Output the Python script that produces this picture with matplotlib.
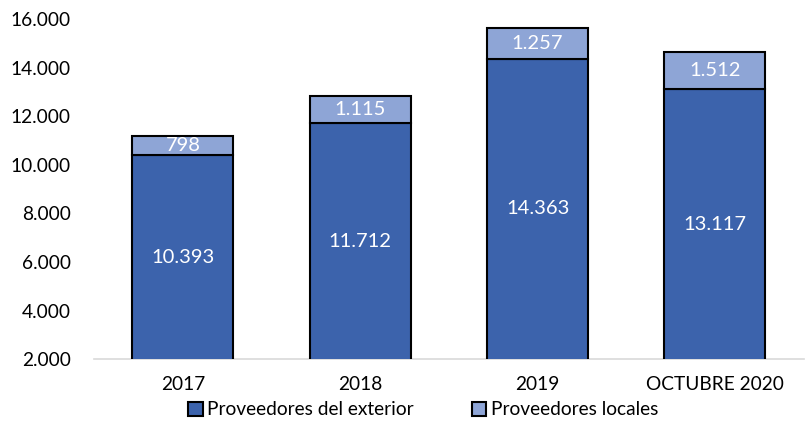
import matplotlib
matplotlib.use("Agg")
import matplotlib.pyplot as plt
import numpy as np

categories = ["2017", "2018", "2019", "OCTUBRE 2020"]
exterior = [10393, 11712, 14363, 13117]
locales = [798, 1115, 1257, 1512]
yticks = [2000, 4000, 6000, 8000, 10000, 12000, 14000, 16000]

def fmt(v):
    return f"{v:,}".replace(",", ".")

plt.rcParams['font.family'] = ['Lato', 'DejaVu Sans']
fig = plt.figure(figsize=(8.06, 4.23), dpi=100)
ax = fig.add_axes([0.117, 0.151, 0.88, 0.804])

dark = "#3C63AC"
light = "#8EA5D6"
ymin = 2000
x = np.arange(len(categories))
w = 0.57
ax.bar(x, exterior, width=w, color=dark, edgecolor="black", linewidth=1.5, label="Proveedores del exterior", zorder=3)
ax.bar(x, locales, width=w, bottom=exterior, color=light, edgecolor="black", linewidth=1.5, label="Proveedores locales", zorder=3)

fs = 13.8
for i in range(len(categories)):
    ax.text(x[i], (ymin + exterior[i]) / 2, fmt(exterior[i]), ha="center", va="center", color="white", fontsize=14.5, zorder=4)
    ax.text(x[i], exterior[i] + locales[i] / 2, fmt(locales[i]), ha="center", va="center", color="white", fontsize=14.5, zorder=4)

ax.set_ylim(ymin, 16000)
ax.set_xlim(-0.5, len(categories) - 0.5)
ax.set_yticks(yticks)
ax.set_yticklabels([fmt(v) for v in yticks], fontsize=fs)
ax.set_xticks(x)
ax.set_xticklabels(categories, fontsize=fs)
for s in ["top", "right", "left"]:
    ax.spines[s].set_visible(False)
ax.spines["bottom"].set_color("#D9D9D9")
ax.spines["bottom"].set_linewidth(1.2)
ax.tick_params(axis="both", length=0, colors="black")
ax.tick_params(axis="y", pad=17)
ax.tick_params(axis="x", pad=12)

leg = fig.legend(loc="lower center", bbox_to_anchor=(0.525, -0.03), ncol=2, frameon=False,
                 fontsize=fs, handlelength=0.75, handleheight=0.75, handletextpad=0.25, columnspacing=3.0)
fig.savefig("out.png", dpi=100)
